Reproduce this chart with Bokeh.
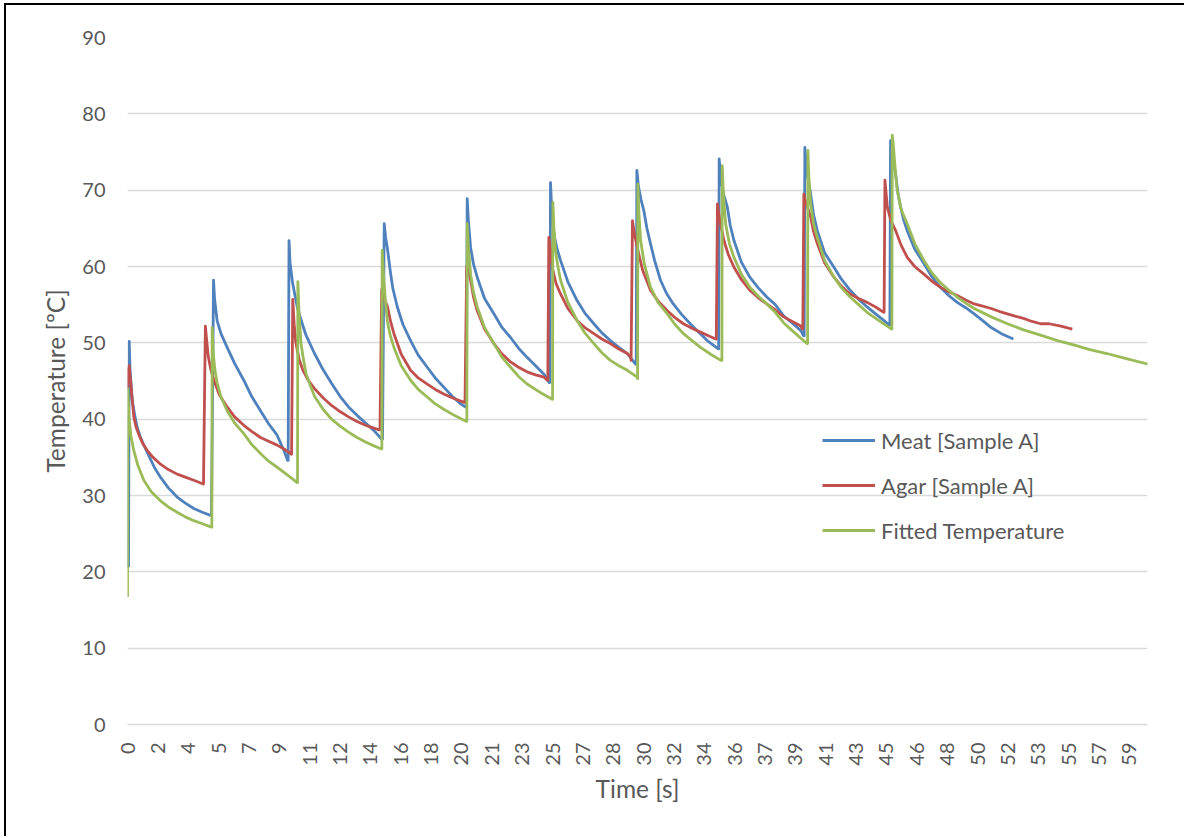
from bokeh.plotting import figure
from bokeh.models import FixedTicker, Legend, LegendItem, Range1d
from bokeh.embed import file_html
from bokeh.resources import INLINE

# ---------------- data ----------------
TICK_STEP = 1.7855  # seconds between category labels on the time axis
x_tick_labels = ["0", "2", "4", "5", "7", "9", "11", "12", "14", "16", "18", "20",
                 "21", "23", "25", "27", "28", "30", "32", "34", "36", "37", "39",
                 "41", "43", "45", "46", "48", "50", "52", "53", "55", "57", "59"]
y_ticks = [0, 10, 20, 30, 40, 50, 60, 70, 80, 90]

meat_time = [0.06, 0.10, 0.15, 0.28, 0.45, 0.57, 0.75, 0.96, 1.30, 1.60, 1.94, 2.40, 2.92, 3.40, 3.90, 4.40, 4.88,
             4.94, 5.06, 5.12, 5.27, 5.50, 5.86, 6.30, 6.84, 7.30, 7.82, 8.30, 8.80, 9.00, 9.20, 9.42,
             9.45, 9.50, 9.56, 9.70, 9.85, 10.00, 10.25, 10.50, 11.00, 11.50, 12.00, 12.50, 13.00, 13.50, 14.00, 14.50, 14.94,
             15.00, 15.10, 15.18, 15.28, 15.45, 15.60, 15.87, 16.20, 16.65, 17.10, 17.63, 18.10, 18.60, 19.10, 19.60, 19.88,
             19.93, 19.98, 20.05, 20.18, 20.35, 20.57, 21.00, 21.55, 22.00, 22.53, 23.00, 23.50, 24.00, 24.50, 24.80,
             24.84, 24.88, 24.95, 25.10, 25.28, 25.47, 25.90, 26.45, 26.90, 27.43, 27.90, 28.40, 28.90, 29.40, 29.88,
             29.92, 29.96, 30.05, 30.20, 30.37, 30.55, 30.76, 31.00, 31.35, 31.70, 32.10, 32.60, 33.10, 33.60, 34.10, 34.75,
             34.77, 34.80, 34.90, 35.05, 35.28, 35.45, 35.67, 36.10, 36.60, 37.10, 37.60, 38.10, 38.60, 39.10, 39.60, 39.78,
             39.80, 39.84, 39.95, 40.18, 40.35, 40.57, 41.00, 41.55, 42.00, 42.50, 43.00, 43.50, 44.00, 44.50, 44.82,
             44.84, 44.88, 44.98, 45.18, 45.30, 45.47, 45.65, 45.86, 46.30, 46.84, 47.30, 47.80, 48.30, 48.80, 49.30,
             49.80, 50.30, 50.80, 51.40, 52.10]
meat_temp = [20.6, 50.2, 46.5, 42.4, 40.2, 38.9, 37.7, 36.6, 35.0, 33.6, 32.4, 31.0, 29.8, 29.0, 28.3, 27.8, 27.4,
             27.6, 58.2, 55.8, 52.9, 51.2, 49.4, 47.3, 45.1, 43.0, 41.1, 39.4, 37.9, 36.9, 35.9, 34.6,
             34.6, 63.4, 60.5, 58.0, 56.2, 54.5, 52.7, 51.0, 48.6, 46.5, 44.7, 43.0, 41.6, 40.5, 39.5, 38.5, 37.4,
             37.4, 65.6, 63.8, 62.5, 59.5, 57.2, 54.7, 52.4, 50.3, 48.4, 46.8, 45.4, 44.2, 43.0, 42.0, 41.6,
             41.6, 68.9, 66.0, 62.5, 60.3, 58.6, 55.8, 53.8, 52.1, 50.7, 49.3, 48.1, 47.0, 45.9, 44.8,
             44.8, 71.0, 67.5, 64.0, 62.2, 60.8, 58.0, 55.5, 53.9, 52.5, 51.3, 50.3, 49.4, 48.6, 47.2,
             47.2, 72.6, 70.5, 68.8, 67.3, 65.0, 63.0, 60.8, 58.2, 56.5, 55.1, 53.7, 52.5, 51.4, 50.3, 49.2,
             49.2, 74.1, 71.5, 69.5, 67.8, 65.4, 63.4, 60.6, 58.6, 57.2, 56.0, 55.0, 53.5, 52.6, 51.6, 50.9,
             50.9, 75.6, 72.5, 69.5, 66.8, 64.7, 61.8, 59.9, 58.3, 56.9, 55.7, 54.7, 53.8, 52.9, 52.3,
             52.3, 76.5, 74.5, 72.1, 69.8, 67.8, 66.1, 64.7, 62.3, 60.4, 58.7, 57.3, 56.2, 55.3, 54.6,
             53.8, 52.9, 52.0, 51.2, 50.5]

agar_time = [0.00, 0.05, 0.10, 0.20, 0.37, 0.50, 0.70, 0.90, 1.16, 1.50, 1.94, 2.40, 2.92, 3.40, 3.90, 4.45,
             4.47, 4.58, 4.65, 4.75, 4.90, 5.08, 5.40, 5.86, 6.30, 6.84, 7.30, 7.82, 8.30, 8.80, 9.20, 9.59,
             9.65, 9.72, 9.80, 9.90, 10.10, 10.30, 10.60, 11.00, 11.50, 12.00, 12.50, 13.00, 13.50, 14.00, 14.40, 14.80,
             14.85, 14.95, 15.05, 15.15, 15.30, 15.45, 15.67, 16.10, 16.65, 17.10, 17.63, 18.10, 18.60, 19.20, 19.80,
             19.85, 19.95, 20.05, 20.18, 20.35, 20.57, 21.00, 21.55, 22.00, 22.53, 23.00, 23.50, 24.00, 24.50, 24.69,
             24.72, 24.78, 24.86, 24.98, 25.20, 25.47, 25.90, 26.45, 26.90, 27.43, 27.90, 28.40, 28.90, 29.40, 29.60,
             29.62, 29.70, 29.80, 29.98, 30.30, 30.76, 31.20, 31.75, 32.20, 32.70, 33.20, 33.70, 34.20, 34.60,
             34.63, 34.70, 34.80, 35.08, 35.35, 35.67, 36.10, 36.60, 37.10, 37.60, 38.10, 38.60, 39.10, 39.60, 39.69,
             39.72, 39.78, 39.88, 40.18, 40.35, 40.57, 41.00, 41.55, 42.00, 42.50, 43.00, 43.50, 44.00, 44.48,
             44.50, 44.55, 44.60, 44.69, 44.90, 45.18, 45.50, 45.86, 46.30, 46.84, 47.30, 47.80, 48.30, 48.80,
             49.30, 49.80, 50.30, 50.80, 51.30, 51.75, 52.20, 52.70, 53.20, 53.70, 54.20, 54.90, 55.57]
agar_temp = [44.0, 46.5, 47.0, 44.5, 40.3, 39.0, 37.8, 36.8, 35.9, 35.0, 34.1, 33.4, 32.8, 32.4, 32.0, 31.5,
             31.5, 52.2, 50.5, 48.2, 46.5, 45.1, 43.2, 41.6, 40.3, 39.2, 38.4, 37.6, 37.1, 36.6, 36.1, 35.5,
             35.4, 55.7, 52.5, 50.0, 47.8, 46.5, 45.2, 44.0, 42.8, 41.8, 41.0, 40.3, 39.7, 39.2, 38.9, 38.6,
             38.6, 57.0, 56.0, 55.5, 54.7, 53.0, 51.2, 48.5, 46.4, 45.4, 44.6, 43.9, 43.3, 42.7, 42.2,
             42.2, 60.0, 59.5, 58.2, 56.0, 54.2, 51.8, 49.9, 48.6, 47.5, 46.8, 46.2, 45.8, 45.5, 45.1,
             45.1, 63.8, 62.5, 59.9, 57.8, 56.4, 54.5, 52.9, 52.0, 51.2, 50.5, 49.9, 49.2, 48.6, 48.1,
             47.7, 66.0, 64.5, 62.5, 59.5, 56.9, 55.5, 54.2, 53.3, 52.5, 51.9, 51.4, 50.9, 50.5,
             50.5, 68.2, 66.5, 63.4, 61.5, 59.9, 58.3, 56.9, 55.9, 55.1, 54.3, 53.4, 52.8, 52.2, 51.8,
             51.8, 69.5, 68.5, 66.5, 64.6, 63.0, 60.5, 58.6, 57.4, 56.4, 55.8, 55.3, 54.7, 54.0,
             54.0, 71.3, 70.0, 67.8, 66.0, 64.7, 62.8, 61.2, 60.0, 59.0, 58.1, 57.3, 56.7, 56.2,
             55.6, 55.1, 54.8, 54.5, 54.1, 53.8, 53.5, 53.2, 52.8, 52.5, 52.5, 52.2, 51.8]

fit_time = [0.00, 0.02, 0.05, 0.08, 0.20, 0.37, 0.60, 0.96, 1.40, 1.94, 2.40, 2.92, 3.40, 3.90, 4.40, 4.94,
            4.96, 4.98, 5.05, 5.15, 5.27, 5.50, 5.86, 6.30, 6.84, 7.30, 7.82, 8.30, 8.80, 9.40, 9.98,
            10.00, 10.02, 10.08, 10.20, 10.35, 10.50, 10.75, 11.00, 11.50, 12.00, 12.50, 13.00, 13.50, 14.00, 14.50, 14.94,
            14.96, 14.98, 15.03, 15.08, 15.18, 15.28, 15.45, 15.67, 16.10, 16.65, 17.10, 17.63, 18.10, 18.60, 19.30, 19.94,
            19.96, 19.98, 20.05, 20.18, 20.35, 20.57, 21.00, 21.55, 22.00, 22.53, 23.00, 23.50, 24.20, 24.98,
            25.00, 25.02, 25.08, 25.18, 25.30, 25.47, 25.90, 26.45, 26.90, 27.43, 27.90, 28.40, 28.90, 29.40, 29.98,
            30.00, 30.02, 30.08, 30.18, 30.40, 30.76, 31.20, 31.75, 32.20, 32.70, 33.20, 33.70, 34.30, 34.90,
            34.96, 34.98, 35.05, 35.18, 35.40, 35.67, 36.10, 36.60, 37.10, 37.60, 38.10, 38.60, 39.10, 39.60, 39.98,
            40.00, 40.02, 40.08, 40.18, 40.35, 40.57, 41.00, 41.55, 42.00, 42.50, 43.00, 43.50, 44.20, 44.94,
            44.96, 44.98, 45.04, 45.10, 45.18, 45.27, 45.50, 45.86, 46.30, 46.84, 47.30, 47.80, 48.30, 48.80,
            49.30, 49.80, 50.80, 51.75, 52.70, 53.70, 54.70, 55.70, 56.60, 57.60, 58.80, 60.05]
fit_temp = [16.7, 44.0, 42.0, 40.3, 37.8, 35.9, 34.0, 32.0, 30.5, 29.3, 28.5, 27.8, 27.2, 26.7, 26.3, 25.85,
            25.85, 52.0, 48.5, 46.3, 44.8, 42.9, 41.1, 39.5, 38.1, 36.7, 35.5, 34.5, 33.7, 32.7, 31.7,
            31.7, 58.0, 54.5, 50.0, 47.8, 46.0, 44.4, 43.0, 41.3, 40.0, 39.1, 38.3, 37.6, 37.0, 36.5, 36.1,
            36.1, 62.1, 60.0, 58.2, 55.3, 52.9, 51.0, 49.4, 47.0, 45.1, 43.9, 42.9, 42.0, 41.3, 40.4, 39.7,
            39.7, 65.6, 62.5, 59.0, 56.6, 54.7, 52.0, 49.9, 48.2, 46.8, 45.6, 44.6, 43.6, 42.6,
            42.6, 68.4, 65.0, 62.0, 60.2, 58.2, 55.3, 52.9, 51.3, 49.9, 48.7, 47.7, 47.0, 46.4, 45.5,
            45.3, 70.8, 67.0, 63.4, 60.3, 57.3, 55.3, 53.8, 52.4, 51.2, 50.3, 49.4, 48.5, 47.7,
            47.7, 73.2, 69.5, 65.6, 63.0, 61.2, 59.0, 57.3, 56.1, 55.1, 54.0, 52.6, 51.6, 50.6, 49.9,
            49.9, 75.2, 71.5, 68.2, 65.6, 63.8, 60.8, 58.6, 57.2, 56.0, 55.0, 54.0, 52.9, 51.8,
            51.8, 77.2, 76.0, 74.3, 72.0, 70.0, 67.5, 65.6, 63.0, 60.8, 59.2, 57.9, 56.9, 56.0,
            55.2, 54.5, 53.4, 52.5, 51.7, 51.0, 50.3, 49.7, 49.1, 48.6, 47.9, 47.2]

series_names = ["Meat [Sample A]", "Agar [Sample A]", "Fitted Temperature"]
series_colors = ["#4F81BD", "#C0504D", "#9BBB59"]

# ---------------- figure ----------------
FONT = "Lato"
TXT = "#595959"

p = figure(width=1180, height=833, output_backend="svg", toolbar_location=None,
           x_range=Range1d(0, 33.6 * TICK_STEP), y_range=Range1d(0, 90),
           min_border_left=121, min_border_right=39, min_border_top=32,
           min_border_bottom=114)
p.styles = {"margin-left": "4px", "margin-top": "3px",
            "border-left": "2px solid #000000", "border-top": "2px solid #000000"}
p.outline_line_color = None
p.background_fill_color = "white"
p.border_fill_color = "white"

renderers = []
for t, v, c in zip([meat_time, agar_time, fit_time], [meat_temp, agar_temp, fit_temp], series_colors):
    r = p.line(t, v, line_color=c, line_width=2.8, line_join="round")
    renderers.append(r)

# axes
ticks = [i * TICK_STEP for i in range(len(x_tick_labels))]
p.xaxis.ticker = FixedTicker(ticks=ticks)
p.xaxis.major_label_overrides = {tk: lab for tk, lab in zip(ticks, x_tick_labels)}
p.xaxis.major_label_orientation = 1.5707963267948966
p.yaxis.ticker = FixedTicker(ticks=y_ticks)

for ax in (p.xaxis[0], p.yaxis[0]):
    ax.major_tick_line_color = None
    ax.minor_tick_line_color = None
    ax.major_label_text_font = FONT
    ax.major_label_text_font_size = "20px"
    ax.major_label_text_color = TXT
    ax.axis_label_text_font = FONT
    ax.axis_label_text_font_size = "24.5px"
    ax.axis_label_text_font_style = "normal"
    ax.axis_label_text_color = TXT

p.xaxis.axis_line_color = "#D9D9D9"
p.xaxis.axis_line_width = 1.3
p.yaxis.axis_line_color = None
p.xaxis.major_label_standoff = 12
p.yaxis.major_label_standoff = 16
p.xaxis.axis_label = "Time [s]"
p.yaxis.axis_label = "Temperature [ºC]"
p.xaxis.axis_label_standoff = 5
p.yaxis.axis_label_standoff = 9

p.xgrid.visible = False
p.ygrid.grid_line_color = "#D9D9D9"
p.ygrid.grid_line_width = 1.3

legend = Legend(items=[LegendItem(label=n, renderers=[r]) for n, r in zip(series_names, renderers)],
                location=(695, 179), orientation="vertical",
                glyph_width=53, glyph_height=30, label_height=30, spacing=15,
                label_standoff=6, padding=0, margin=0,
                background_fill_alpha=0, border_line_alpha=0,
                label_text_font=FONT, label_text_font_size="22px",
                label_text_color=TXT, label_text_baseline="middle")
p.add_layout(legend, "center")

open("out.html", "w").write(file_html(p, INLINE))
